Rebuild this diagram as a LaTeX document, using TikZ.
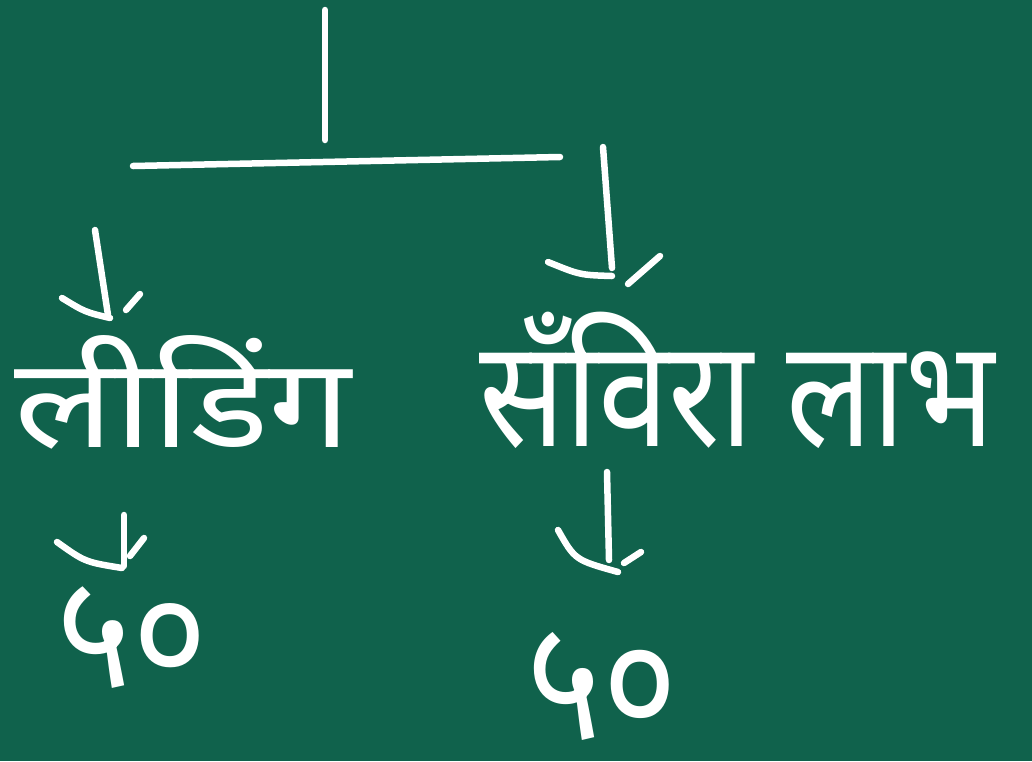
\documentclass[tikz,border=0pt]{standalone}
\usepackage{fontspec}
\newfontfamily\dev[Script=Devanagari]{Noto Sans}
\definecolor{board}{RGB}{16,98,76}
\begin{document}
\begin{tikzpicture}[x=1pt,y=-1pt,
 chalk/.style={draw=white,line width=6.5pt,line cap=round,line join=round},
 lbl/.style={text=white,font=\dev\fontsize{100}{110}\selectfont,inner sep=0pt},
 num/.style={text=white,font=\dev\fontsize{100}{110}\selectfont,inner sep=0pt}]
\fill[board] (0,0) rectangle (1032,761);
\useasboundingbox (0,0) rectangle (1032,761);
% tree skeleton
\coordinate (root) at (325,10);
\coordinate (fork) at (325,140);
\coordinate (barL) at (133,166);
\coordinate (barR) at (560,157);
% labels
\node[lbl] (lead) at (183,392) {\scalebox{1.47}[1.25]{लीडिंग}};
\node[lbl] (sanv) at (737,380) {\scalebox{1.27}[1.5]{सँविरा लाभ}};
\node[num] (n1) at (132,638) {\scalebox{1.45}[1.6]{५०}};
\node[num] (n2) at (602,686) {\scalebox{1.45}[1.7]{५०}};
% arrow coordinates
\coordinate (a1s) at (95,230);  \coordinate (a1t) at (108,315);
\coordinate (a2s) at (603,147); \coordinate (a2t) at (612,268);
\coordinate (a3s) at (124,515); \coordinate (a3t) at (124,566);
\coordinate (a4s) at (607,472); \coordinate (a4t) at (609,560);
\draw[chalk] (root) -- (fork);
\draw[chalk] (barL) -- (barR);
% upper left arrow
\draw[chalk] (a1s) -- (a1t);
\draw[chalk] (62,298) .. controls (85,312) .. (110,318);
\draw[chalk] (126,310) -- (140,294);
% upper right arrow
\draw[chalk] (a2s) -- (a2t);
\draw[chalk] (548,262) .. controls (580,275) .. (612,276);
\draw[chalk] (628,284) -- (660,256);
% lower left arrow
\draw[chalk] (a3s) -- (a3t);
\draw[chalk] (57,542) .. controls (85,562) .. (122,568);
\draw[chalk] (130,556) -- (144,538);
% lower right arrow
\draw[chalk] (a4s) -- (a4t);
\draw[chalk] (558,530) .. controls (575,560) .. (618,572);
\draw[chalk] (624,563) -- (641,552);
\end{tikzpicture}
\end{document}
